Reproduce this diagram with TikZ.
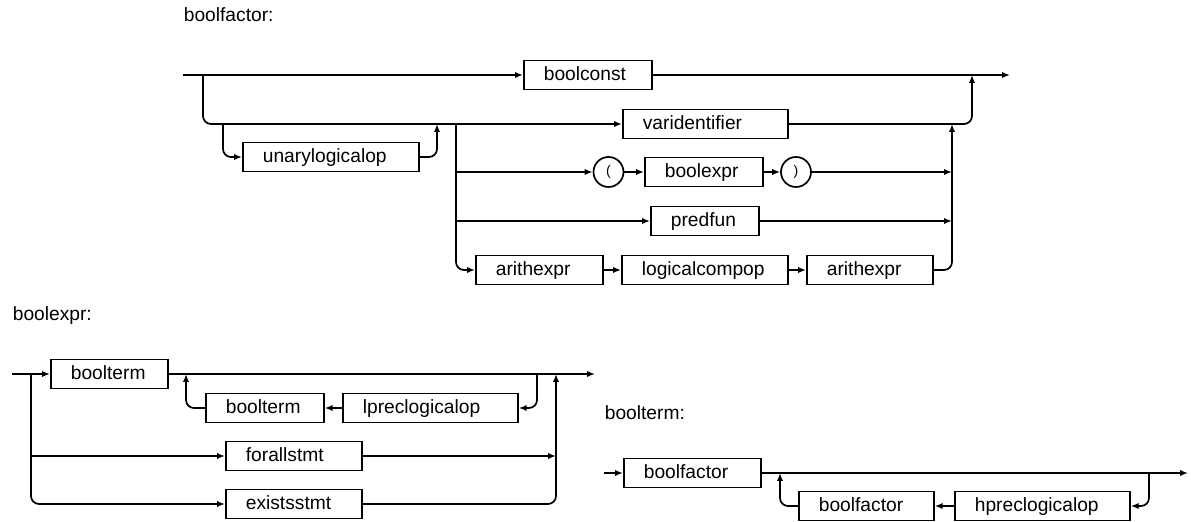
\documentclass[tikz,border=0pt]{standalone}
\usepackage{fontspec}
\setmainfont{Liberation Sans}
\usetikzlibrary{arrows.meta}

\begin{document}
\begin{tikzpicture}[x=0.5pt,y=-0.5pt,line width=0.85pt,
  every node/.style={font=\fontsize{9.6}{11}\selectfont},
  title/.style={anchor=base west,inner sep=0pt},
  box/.style={draw,anchor=west,inner xsep=10pt,inner ysep=0pt,minimum height=14.5pt,
    align=left,text height=0.72em,text depth=0.15em},
  term/.style={draw,circle,inner sep=0pt,minimum size=15pt,font=\fontsize{7}{8}\selectfont},
  arr/.style={-{Latex[length=4pt,width=3.2pt]}},
  bendarr/.style={arr,rounded corners=4pt}]
  \useasboundingbox (0,0) rectangle (1191,522);

  % boolfactor
  \node[title] (lbfactor) at (183,22) {boolfactor:};
  \node[box,text width=44pt] (bconst) at (523,75) {boolconst};
  \node[box,text width=62.5pt] (varid) at (622,124) {varidentifier};
  \node[box,text width=68pt] (unop) at (242,157) {unarylogicalop};
  \node[term] (lpar) at (608.5,172) {(};
  \node[box,text width=39pt] (bexpr) at (644,172) {boolexpr};
  \node[term] (rpar) at (796,172) {)};
  \node[box,text width=34pt] (pfun) at (650,221) {predfun};
  \node[box,text width=43.5pt] (aexpra) at (475,270) {arithexpr};
  \node[box,text width=63pt] (lcomp) at (621,270) {logicalcompop};
  \node[box,text width=43pt] (aexprb) at (806,270) {arithexpr};
  \coordinate (fin) at (183,75);
  \coordinate (fout) at (1010,75);
  \coordinate (fa) at (203,75);
  \coordinate (fb) at (223,124);
  \coordinate (fc) at (437,124);
  \coordinate (fd) at (456,124);
  \coordinate (fe) at (456,172);
  \coordinate (ff) at (456,221);
  \coordinate (fg) at (952,124);
  \coordinate (fh) at (952,172);
  \coordinate (fi) at (952,221);
  \coordinate (fj) at (972,75);
  \draw[arr] (fin) -- (bconst);
  \draw[arr] (bconst) -- (fout);
  \draw[bendarr] (fa) |- (varid);
  \draw[bendarr] (fb) |- (unop);
  \draw[bendarr] (unop) -| (fc);
  \draw[bendarr] (fd) |- (aexpra);
  \draw[arr] (fe) -- (lpar);
  \draw[arr] (lpar) -- (bexpr);
  \draw[arr] (bexpr) -- (rpar);
  \draw[arr] (rpar) -- (fh);
  \draw[arr] (ff) -- (pfun);
  \draw[arr] (pfun) -- (fi);
  \draw[arr] (aexpra) -- (lcomp);
  \draw[arr] (lcomp) -- (aexprb);
  \draw[bendarr] (aexprb) -| (fg);
  \draw[bendarr] (varid) -| (fj);

  % boolexpr
  \node[title] (lbexpr) at (12,321) {boolexpr:};
  \node[box,text width=38.5pt] (bterma) at (50,374) {boolterm};
  \node[box,text width=67.5pt] (lprec) at (342,408) {lpreclogicalop};
  \node[box,text width=39pt] (btermb) at (205,408) {boolterm};
  \node[box,text width=48pt] (fall) at (225,456) {forallstmt};
  \node[box,text width=48pt] (exst) at (225,504) {existsstmt};
  \coordinate (ein) at (12,374);
  \coordinate (eout) at (595,374);
  \coordinate (ea) at (31,374);
  \coordinate (eb) at (31,456);
  \coordinate (ec) at (537,374);
  \coordinate (ed) at (186,374);
  \coordinate (ee) at (556,374);
  \coordinate (ef) at (556,456);
  \draw[arr] (ein) -- (bterma);
  \draw[arr] (bterma) -- (eout);
  \draw[bendarr] (ec) |- (lprec);
  \draw[arr] (lprec) -- (btermb);
  \draw[bendarr] (btermb) -| (ed);
  \draw[bendarr] (ea) |- (exst);
  \draw[arr] (eb) -- (fall);
  \draw[arr] (fall) -- (ef);
  \draw[bendarr] (exst) -| (ee);

  % boolterm
  \node[title] (lbterm) at (604,420) {boolterm:};
  \node[box,text width=48.5pt] (bfacta) at (623,473) {boolfactor};
  \node[box,text width=67.5pt] (hprec) at (954,506) {hpreclogicalop};
  \node[box,text width=47.5pt] (bfactb) at (798,506) {boolfactor};
  \coordinate (tin) at (604,473);
  \coordinate (tout) at (1188,473);
  \coordinate (ta) at (1149,473);
  \coordinate (tb) at (780,473);
  \draw[arr] (tin) -- (bfacta);
  \draw[arr] (bfacta) -- (tout);
  \draw[bendarr] (ta) |- (hprec);
  \draw[arr] (hprec) -- (bfactb);
  \draw[bendarr] (bfactb) -| (tb);
\end{tikzpicture}
\end{document}
